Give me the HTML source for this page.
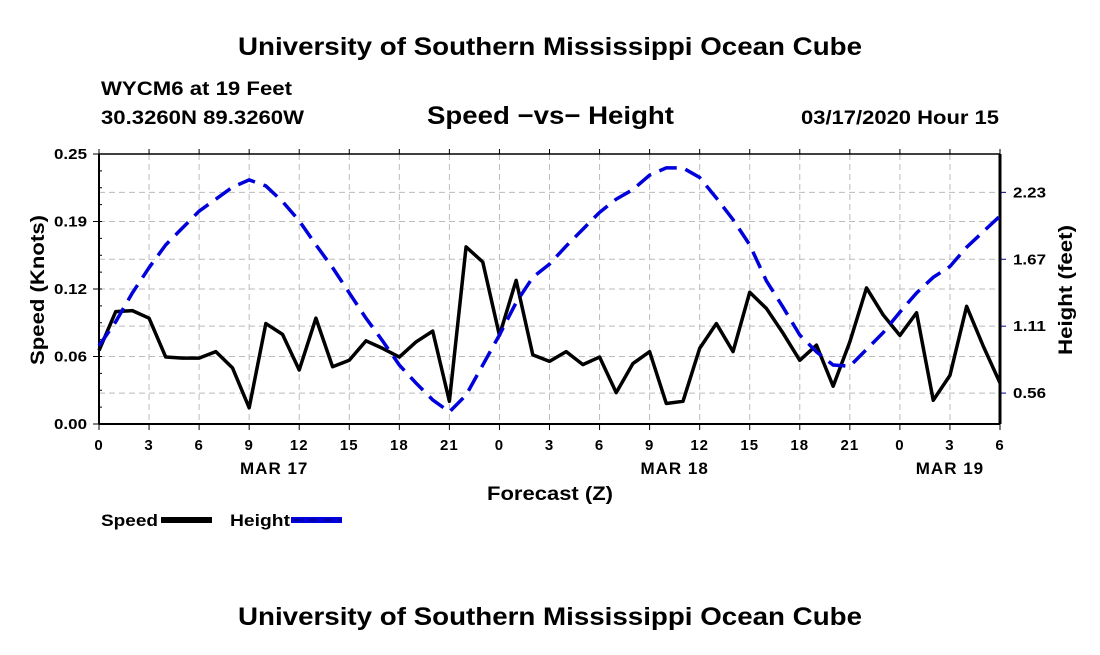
<!DOCTYPE html>
<html><head><meta charset="utf-8"><style>
body{margin:0;background:#fff;}
svg text{font-family:"Liberation Sans",Arial,sans-serif;font-weight:bold;fill:#000;}
</style></head><body>
<svg width="1100" height="650" xmlns="http://www.w3.org/2000/svg">
<text x="238" y="55" font-size="25" textLength="624" lengthAdjust="spacingAndGlyphs">University of Southern Mississippi Ocean Cube</text>
<text x="101" y="95" font-size="19" textLength="191" lengthAdjust="spacingAndGlyphs">WYCM6 at 19 Feet</text>
<text x="101" y="124" font-size="19" textLength="203" lengthAdjust="spacingAndGlyphs">30.3260N 89.3260W</text>
<text x="427" y="124" font-size="25" textLength="247" lengthAdjust="spacingAndGlyphs">Speed −vs− Height</text>
<text x="801" y="124" font-size="19" textLength="198" lengthAdjust="spacingAndGlyphs">03/17/2020 Hour 15</text>
<g id="grid"></g>
<g id="axes"></g>
<g id="series"></g>
<text x="487" y="500" font-size="19" textLength="126" lengthAdjust="spacingAndGlyphs">Forecast (Z)</text>
<text transform="translate(44,290) rotate(-90)" font-size="19" text-anchor="middle" textLength="150" lengthAdjust="spacingAndGlyphs">Speed (Knots)</text>
<text transform="translate(1072,290) rotate(-90)" font-size="19" text-anchor="middle" textLength="130" lengthAdjust="spacingAndGlyphs">Height (feet)</text>
<g>
<text x="101" y="526" font-size="17" textLength="57" lengthAdjust="spacingAndGlyphs">Speed</text>
<rect x="161" y="517" width="51" height="6" fill="#000"/>
<text x="230" y="526" font-size="17" textLength="60" lengthAdjust="spacingAndGlyphs">Height</text>
<rect x="291" y="517" width="51" height="6" fill="#0000dd"/>
<line x1="293" y1="520" x2="342" y2="520" stroke="#000066" stroke-width="1" stroke-dasharray="10,5"/>
</g>
<text x="238" y="625" font-size="25" textLength="624" lengthAdjust="spacingAndGlyphs">University of Southern Mississippi Ocean Cube</text>
</svg>
<script>
const hours = [];for(let i=0;i<=54;i++)hours.push(i);
const speedValues=[0.068,0.104,0.105,0.098,0.062,0.061,0.061,0.067,0.052,0.015,0.093,0.083,0.050,0.098,0.053,0.059,0.077,0.070,0.062,0.076,0.086,0.021,0.164,0.150,0.082,0.133,0.064,0.058,0.067,0.055,0.062,0.029,0.056,0.067,0.019,0.021,0.070,0.093,0.067,0.122,0.107,0.084,0.059,0.073,0.035,0.076,0.126,0.101,0.082,0.103,0.022,0.045,0.109,0.072,0.038];
const heightValues=[0.95,1.15,1.39,1.60,1.79,1.93,2.07,2.17,2.27,2.33,2.28,2.15,1.99,1.79,1.60,1.39,1.18,0.99,0.79,0.64,0.50,0.40,0.54,0.79,1.04,1.31,1.52,1.63,1.78,1.92,2.06,2.17,2.25,2.37,2.43,2.43,2.35,2.18,2.00,1.79,1.49,1.27,1.04,0.90,0.79,0.78,0.92,1.06,1.23,1.39,1.52,1.61,1.77,1.90,2.03];
const xTickLabels=["0","3","6","9","12","15","18","21","0","3","6","9","12","15","18","21","0","3","6"];
const dayLabels=["MAR 17","MAR 18","MAR 19"];
const dayHours=[10.5,34.5,51];
const leftTicks=[0,0.0625,0.125,0.1875,0.25];
const leftTickLabels=["0.00","0.06","0.12","0.19","0.25"];
const rightTicks=[0.5567,1.1133,1.67,2.2267];
const rightTickLabels=["0.56","1.11","1.67","2.23"];
const NS="http://www.w3.org/2000/svg";
const X0=99,X1=1000,Y0=424,YT=154;
const xs=h=>X0+h*(X1-X0)/54;
const ySpeed=s=>Y0-s*(Y0-YT)/0.25;
const yHeight=v=>460-v*120.2;
function mk(tag,attrs,parent){const e=document.createElementNS(NS,tag);for(const k in attrs)e.setAttribute(k,attrs[k]);parent.appendChild(e);return e;}
const grid=document.getElementById('grid'),axes=document.getElementById('axes'),series=document.getElementById('series');
xTickLabels.forEach((l,i)=>{const x=xs(i*3);
 const g=mk('line',{x1:x,y1:YT,x2:x,y2:Y0,stroke:'#bbb','stroke-width':1,'stroke-dasharray':'6,4'},grid);
 
 
 const t=mk('line',{x1:x,y1:Y0,x2:x,y2:Y0+6,stroke:'#000'},axes);
 
 
 const t2=mk('line',{x1:x,y1:YT-5,x2:x,y2:YT,stroke:'#000'},axes);
 
 
 const tx=mk('text',{x:x,y:450,'font-size':15,'text-anchor':'middle','letter-spacing':1},axes);tx.textContent=l;
 
 
});
dayLabels.forEach((l,i)=>{const tx=mk('text',{x:xs(dayHours[i]),y:474,'font-size':17,'text-anchor':'middle','letter-spacing':1},axes);tx.textContent=l;
 
 });
leftTicks.forEach((v,i)=>{const y=ySpeed(v);
 if(i>0&&i<4){const g=mk('line',{x1:X0,y1:y,x2:X1,y2:y,stroke:'#bbb','stroke-dasharray':'6,4'},grid);
 
 }
 const t=mk('line',{x1:X0-6,y1:y,x2:X0,y2:y,stroke:'#000'},axes);
 
 
 const tx=mk('text',{x:54,y:y+5,'font-size':15,textLength:33,lengthAdjust:'spacingAndGlyphs'},axes);tx.textContent=leftTickLabels[i];
 
 });
for(let k=1;k<16;k++){const y=Y0-k*(Y0-YT)/16;const t=mk('line',{x1:X0,y1:y,x2:X0+3,y2:y,stroke:'#000'},axes);
 
 }
rightTicks.forEach((v,i)=>{const y=yHeight(v);
 const g=mk('line',{x1:X0,y1:y,x2:X1,y2:y,stroke:'#bbb','stroke-dasharray':'6,4'},grid);
 
 
 const t=mk('line',{x1:X1,y1:y,x2:X1+6,y2:y,stroke:'#000099'},axes);
 
 
 const tx=mk('text',{x:1013,y:y+5,'font-size':15,textLength:33,lengthAdjust:'spacingAndGlyphs'},axes);tx.textContent=rightTickLabels[i];
 
 });
[[X0,YT,X0,Y0,2],[X0,Y0,X1,Y0,2],[X0,YT,X1,YT,1.5],[X1,YT,X1,Y0,3]].forEach(a=>{const l=mk('line',{x1:a[0],y1:a[1],x2:a[2],y2:a[3],stroke:'#000','stroke-width':a[4]},axes);
 
 });
const sp=mk('polyline',{points:hours.map((h,i)=>xs(h)+','+ySpeed(speedValues[i])).join(' '),fill:'none',stroke:'#000','stroke-width':3.5,'stroke-linejoin':'round'},series);


const hp=mk('polyline',{points:hours.map((h,i)=>xs(h)+','+yHeight(heightValues[i])).join(' '),fill:'none',stroke:'#0000dd','stroke-width':3.5,'stroke-dasharray':'18,9'},series);


</script>
</body></html>
